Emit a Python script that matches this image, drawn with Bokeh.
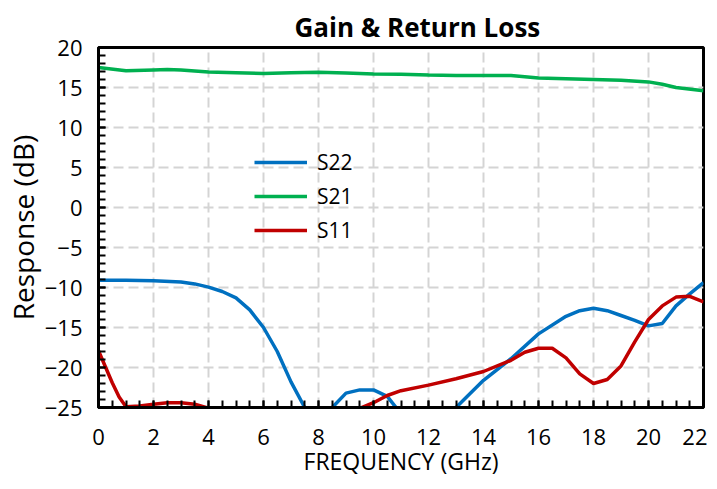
from bokeh.plotting import figure
from bokeh.models import Legend, LegendItem, FixedTicker, Range1d
from bokeh.embed import file_html
from bokeh.resources import INLINE

# ---- data ----
s21_freq = [0, 1, 2, 2.5, 3, 4, 5, 6, 7, 8, 9, 10, 11, 12, 13, 14, 15, 16, 17, 18, 19, 20, 20.5, 21, 22]
s21_db = [17.5, 17.1, 17.2, 17.25, 17.2, 16.95, 16.85, 16.75, 16.85, 16.9, 16.8, 16.7, 16.65, 16.55, 16.5, 16.5, 16.5, 16.2, 16.1, 16.0, 15.9, 15.7, 15.4, 15.0, 14.6]

s22_freq = [0, 1, 2, 3, 3.5, 4, 4.5, 5, 5.5, 6, 6.5, 7, 7.5, 8, 8.5, 9, 9.5, 10, 10.5, 11, 12, 13, 14, 15, 16, 17, 17.5, 18, 18.5, 19, 19.5, 20, 20.5, 21, 21.5, 22]
s22_db = [-9.1, -9.1, -9.15, -9.3, -9.55, -9.95, -10.5, -11.3, -12.8, -15.0, -18.0, -21.8, -25.0, -26.5, -25.0, -23.2, -22.8, -22.8, -23.6, -25.8, -27.0, -25.0, -21.6, -18.9, -15.8, -13.6, -12.9, -12.6, -12.9, -13.5, -14.1, -14.8, -14.5, -12.3, -10.8, -9.4]

s11_freq = [0, 0.25, 0.5, 0.75, 1, 1.5, 2, 2.5, 3, 3.5, 4, 5, 6, 7, 8, 9, 9.5, 10, 10.5, 11, 12, 13, 14, 15, 15.5, 16, 16.5, 17, 17.5, 18, 18.5, 19, 19.5, 20, 20.5, 21, 21.5, 22]
s11_db = [-17.9, -19.9, -21.9, -23.7, -24.9, -24.8, -24.6, -24.4, -24.4, -24.6, -25.1, -26.5, -27.5, -27.5, -27.0, -26.0, -25.1, -24.4, -23.5, -22.9, -22.2, -21.4, -20.5, -19.1, -18.1, -17.6, -17.6, -18.8, -20.8, -22.0, -21.5, -19.8, -16.8, -14.0, -12.3, -11.2, -11.1, -11.8]

x_ticks = [0, 2, 4, 6, 8, 10, 12, 14, 16, 18, 20, 22]
y_ticks = [20, 15, 10, 5, 0, -5, -10, -15, -20, -25]

FONT = "Open Sans"

p = figure(width=707, height=481, output_backend="svg", toolbar_location=None,
           x_range=Range1d(0, 22), y_range=Range1d(-25, 20),
           title="Gain & Return Loss",
           min_border_left=98, min_border_right=4, min_border_bottom=74, min_border_top=47)

p.title.align = "left"
p.title.offset = 196
p.title.text_font = FONT
p.title.text_font_style = "bold"
p.title.text_font_size = "26px"
p.title.text_color = "black"
p.title.standoff = 6

p.outline_line_color = "black"
p.outline_line_width = 3
p.outline_line_alpha = 1.0

for ax in (p.xaxis[0], p.yaxis[0]):
    ax.axis_line_color = "black"
    ax.axis_line_width = 3
    ax.major_tick_line_color = "black"
    ax.major_tick_line_width = 2
    ax.minor_tick_line_color = "black"
    ax.minor_tick_line_width = 2
    ax.major_tick_in = 7
    ax.major_tick_out = 0
    ax.minor_tick_in = 7
    ax.minor_tick_out = 0
    ax.major_label_text_font = FONT
    ax.major_label_text_font_size = "22px"
    ax.major_label_text_color = "black"
    ax.axis_label_text_font = FONT
    ax.axis_label_text_font_style = "normal"
    ax.axis_label_text_color = "black"

p.xaxis.axis_label_text_font_size = "23px"
p.yaxis.axis_label_text_font_size = "28px"
p.xaxis.ticker = FixedTicker(ticks=x_ticks, minor_ticks=[i * 0.5 for i in range(45)])
p.yaxis.ticker = FixedTicker(ticks=y_ticks, minor_ticks=list(range(-25, 21)))
p.xaxis.axis_label = "FREQUENCY (GHz)"
p.yaxis.axis_label = "Response (dB)"
p.xaxis.major_label_standoff = 21
p.yaxis.major_label_standoff = 16
p.xaxis.axis_label_standoff = -3
p.yaxis.axis_label_standoff = 0

for g in (p.xgrid[0], p.ygrid[0]):
    g.grid_line_color = "#d4d4d4"
    g.grid_line_width = 2
    g.grid_line_dash = "10 5"

r22 = p.line(s22_freq, s22_db, line_color="#0070c0", line_width=3.5)
r21 = p.line(s21_freq, s21_db, line_color="#00b050", line_width=3.5)
r11 = p.line(s11_freq, s11_db, line_color="#c00000", line_width=3.5)

legend = Legend(items=[LegendItem(label="S22", renderers=[r22]),
                       LegendItem(label="S21", renderers=[r21]),
                       LegendItem(label="S11", renderers=[r11])],
                location=(156, 163))
legend.background_fill_alpha = 0
legend.border_line_alpha = 0
legend.padding = 0
legend.margin = 0
legend.spacing = 6
legend.glyph_width = 53
legend.glyph_height = 20
legend.label_height = 20
legend.label_standoff = 10
legend.label_text_font = FONT
legend.label_text_font_size = "21px"
legend.label_text_color = "black"
p.add_layout(legend, "center")

open("out.html", "w").write(file_html(p, INLINE))
